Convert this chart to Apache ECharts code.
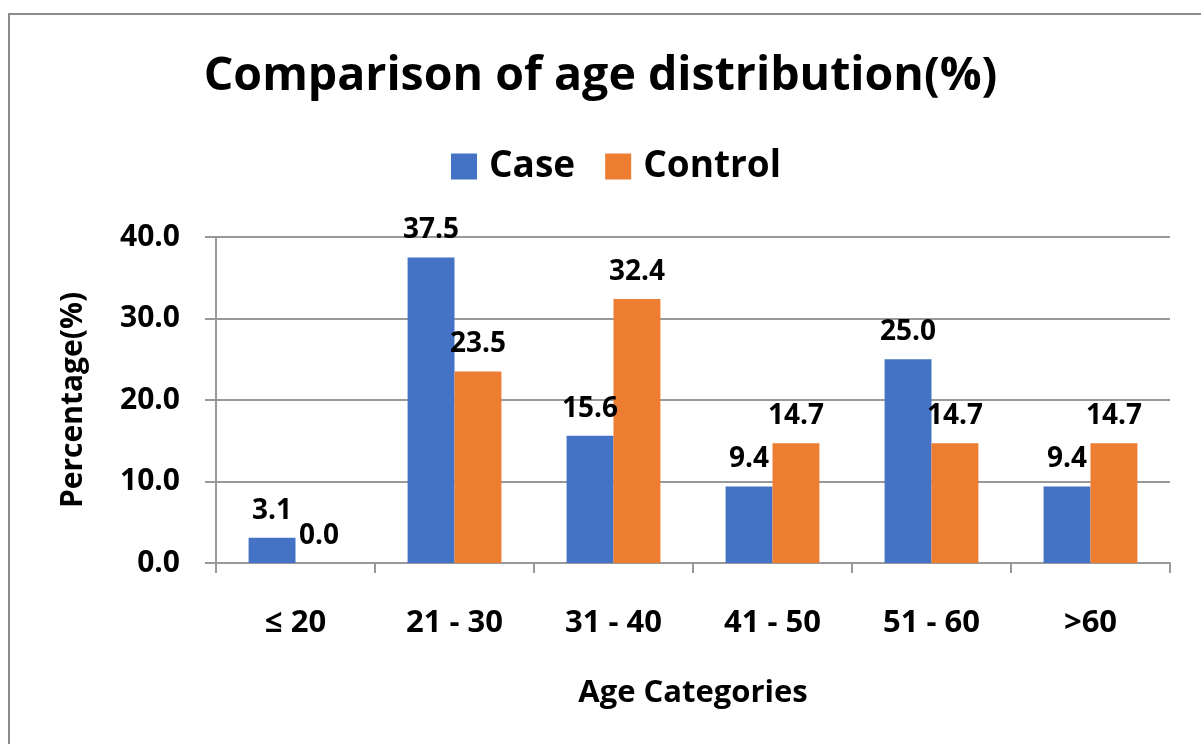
<!DOCTYPE html>
<html>
<head>
<meta charset="utf-8">
<script src="https://cdn.jsdelivr.net/npm/echarts@6/dist/echarts.min.js"></script>
<style>
html,body{margin:0;padding:0;background:#fff;}
#chart{width:1201px;height:744px;}
</style>
</head>
<body>
<div id="chart"></div>
<script>
const categories = ['≤ 20', '21 - 30', '31 - 40', '41 - 50', '51 - 60', '>60'];
const caseValues = [3.1, 37.5, 15.6, 9.4, 25.0, 9.4];
const controlValues = [0.0, 23.5, 32.4, 14.7, 14.7, 14.7];
const seriesNames = ['Case', 'Control'];
const titleText = 'Comparison of age distribution(%)';
const xAxisName = 'Age Categories';
const yAxisName = 'Percentage(%)';

const FONT = 'Open Sans';
const chart = echarts.init(document.getElementById('chart'));
const labelCfg = {
  show: true, position: 'top', distance: 13,
  fontFamily: FONT, fontWeight: 'bold', fontSize: 28, color: '#000',
  formatter: p => p.value.toFixed(1)
};
chart.setOption({
  backgroundColor: '#fff',
  animation: false,
  textStyle: { fontFamily: FONT },
  graphic: [{
    type: 'rect', silent: true,
    shape: { x: 9, y: 14, width: 1300, height: 900 },
    style: { fill: 'none', stroke: '#8c8c8c', lineWidth: 2 }
  }],
  title: {
    text: titleText, left: 'center', top: 48,
    textStyle: { fontFamily: FONT, fontWeight: 'bold', fontSize: 46.5, color: '#000' }
  },
  legend: {
    data: seriesNames, top: 143, left: 446,
    itemWidth: 26, itemHeight: 26, itemGap: 30,
    icon: 'rect',
    textStyle: { fontFamily: FONT, fontWeight: 'bold', fontSize: 37, color: '#000', padding: [0, 0, 0, 7] }
  },
  grid: { left: 216, right: 31, top: 237, bottom: 181, containLabel: false },
  xAxis: {
    type: 'category', data: categories,
    name: xAxisName, nameLocation: 'middle', nameGap: 115,
    nameTextStyle: { fontFamily: FONT, fontWeight: 'bold', fontSize: 31, color: '#000' },
    axisLine: { show: true, lineStyle: { color: '#999', width: 2 } },
    axisTick: { show: true, length: 10, lineStyle: { color: '#999', width: 2 } },
    axisLabel: { margin: 45, fontFamily: FONT, fontWeight: 'bold', fontSize: 31, color: '#000' }
  },
  yAxis: {
    type: 'value', min: 0, max: 40, interval: 10,
    name: yAxisName, nameLocation: 'middle', nameGap: 128, nameRotate: 90,
    nameTextStyle: { fontFamily: FONT, fontWeight: 'bold', fontSize: 30, color: '#000' },
    axisLine: { show: true, lineStyle: { color: '#999', width: 2 } },
    axisTick: { show: true, length: 11, lineStyle: { color: '#999', width: 2 } },
    axisLabel: { margin: 36, fontFamily: FONT, fontWeight: 'bold', fontSize: 30, color: '#000',
      formatter: v => v.toFixed(1) },
    splitLine: { show: true, lineStyle: { color: '#999', width: 2 } }
  },
  series: [
    { name: seriesNames[0], type: 'bar', data: caseValues, barGap: '0%', barCategoryGap: '41%',
      itemStyle: { color: '#4472C4' }, label: labelCfg },
    { name: seriesNames[1], type: 'bar', data: controlValues, barGap: '0%', barCategoryGap: '41%',
      itemStyle: { color: '#ED7D31' }, label: labelCfg }
  ]
});
</script>
</body>
</html>
